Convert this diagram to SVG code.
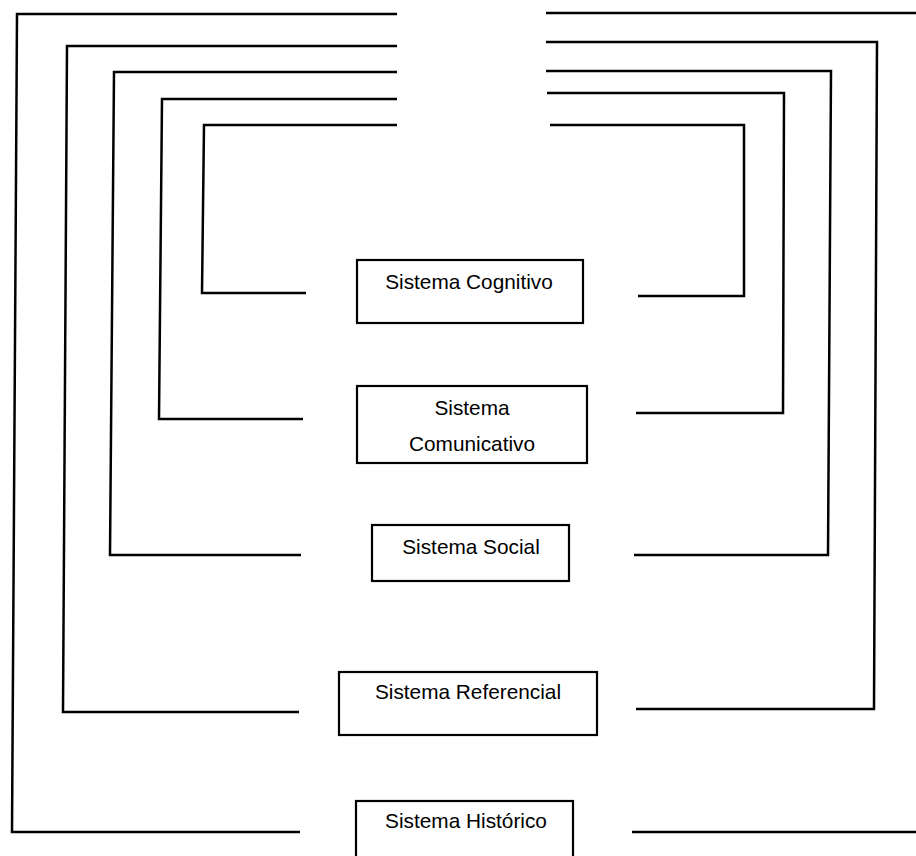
<svg xmlns="http://www.w3.org/2000/svg" width="916" height="856" viewBox="0 0 916 856">
  <style>
    .wire { fill: none; stroke: #000; stroke-width: 2.5; stroke-linejoin: miter; stroke-linecap: butt; }
    .box { fill: #fff; stroke: #000; stroke-width: 2.2; }
    .label { font-family: "Liberation Sans", Arial, sans-serif; font-size: 20.8px; fill: #000; text-anchor: middle; }
  </style>
  <rect width="916" height="856" fill="#fff"/>

  <!-- nested brackets enclosing each system -->
  <g id="connectors">
    <!-- outermost: historical system -->
    <path class="wire" d="M397,14 L17,14 L12,832 L300,832"/>
    <path class="wire" d="M546,13 L916,13"/>
    <path class="wire" d="M632,832 L916,832"/>
    <!-- referential system -->
    <path class="wire" d="M397,46 L67,46 L63,712 L299,712"/>
    <path class="wire" d="M546,42 L877,42 L874,709 L636,709"/>
    <!-- social system -->
    <path class="wire" d="M397,72 L114,72 L110,555 L301,555"/>
    <path class="wire" d="M546,71 L831,71 L828,555 L634,555"/>
    <!-- communicative system -->
    <path class="wire" d="M397,99 L162,99 L159,419 L303,419"/>
    <path class="wire" d="M547,93 L784,93 L783,413 L636,413"/>
    <!-- cognitive system -->
    <path class="wire" d="M397,125 L204,125 L202,293 L306,293"/>
    <path class="wire" d="M550,125 L744,125 L744,296 L638,296"/>
  </g>

  <g id="cognitivo">
    <rect class="box" x="357" y="260" width="226" height="63"/>
    <text class="label" x="469" y="289">Sistema Cognitivo</text>
  </g>

  <g id="comunicativo">
    <rect class="box" x="357" y="386" width="230" height="77"/>
    <text class="label" x="472" y="415">Sistema</text>
    <text class="label" x="472" y="451">Comunicativo</text>
  </g>

  <g id="social">
    <rect class="box" x="372" y="525" width="197" height="56"/>
    <text class="label" x="471" y="554">Sistema Social</text>
  </g>

  <g id="referencial">
    <rect class="box" x="339" y="672" width="258" height="63"/>
    <text class="label" x="468" y="699">Sistema Referencial</text>
  </g>

  <g id="historico">
    <rect class="box" x="356" y="801" width="217" height="70"/>
    <text class="label" x="466" y="828">Sistema Histórico</text>
  </g>
</svg>
